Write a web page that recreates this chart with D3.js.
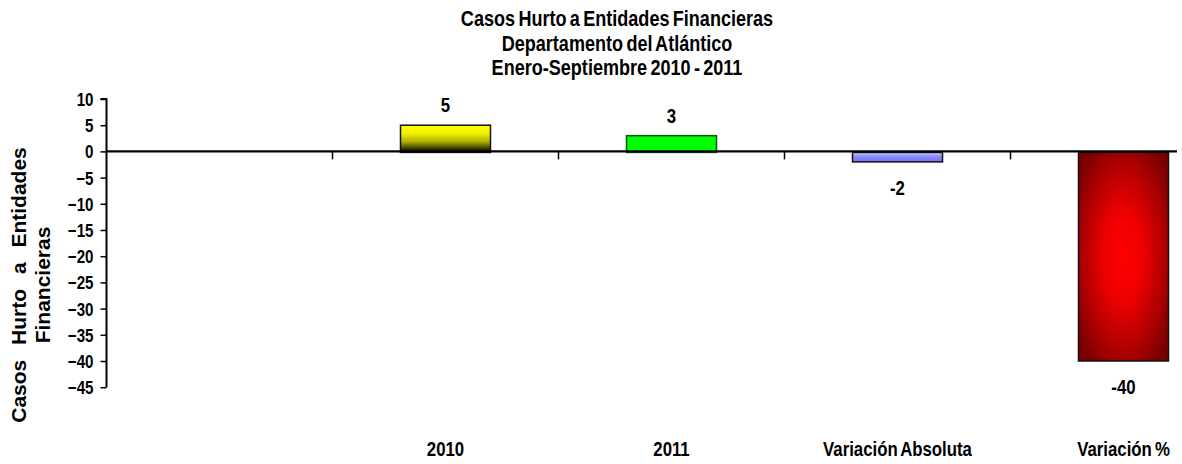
<!DOCTYPE html>
<html>
<head>
<meta charset="utf-8">
<script src="https://cdn.jsdelivr.net/npm/d3@7/dist/d3.min.js"></script>
<style>
  html, body { margin: 0; padding: 0; background: #fff; }
  svg { display: block; }
  .narrow { font-family: "Liberation Sans", Arial, sans-serif; font-weight: bold; }
</style>
</head>
<body>
<svg id="chart" width="1182" height="464"></svg>
<script>
const categories = ["", "2010", "2011", "Variación Absoluta", "Variación %"];
const values = [null, 5, 3, -2, -40];
const yTicks = [10, 5, 0, -5, -10, -15, -20, -25, -30, -35, -40, -45];
const titleLines = ["Casos Hurto a Entidades Financieras", "Departamento del Atlántico", "Enero-Septiembre 2010 - 2011"];
const yTitleLines = ["Casos Hurto a Entidades", "Financieras"];
const fills = [null, "url(#gYellow)", "#00ff00", "url(#gBlue)", "url(#gRed)"];

const svg = d3.select("#chart");
const W = 1182, H = 464;
const axisX = 106.5;
const step = 226;

const x = d3.scaleBand().domain(categories).range([axisX, axisX + step * categories.length]).paddingInner(0).paddingOuter(0);
const y = d3.scaleLinear().domain([-45, 10]).range([387.2, 99]);
const barW = 90;

// condense text horizontally (imitates a narrow bold face) with a transform
function condense(sel, k) {
  sel.each(function () {
    const t = d3.select(this);
    const tx = +t.attr("x") || 0, ty = +t.attr("y") || 0;
    t.attr("x", 0).attr("y", 0).attr("transform", `translate(${tx},${ty}) scale(${k},1)`);
  });
}

// gradients
const defs = svg.append("defs");
const gy = defs.append("linearGradient").attr("id", "gYellow").attr("x1", 0).attr("y1", 0).attr("x2", 0).attr("y2", 1);
[[0, "#ffff00"], [0.3, "#f0f000"], [0.6, "#b0b000"], [0.85, "#3a3a00"], [1, "#050500"]].forEach(s => gy.append("stop").attr("offset", s[0]).attr("stop-color", s[1]));
const gb = defs.append("linearGradient").attr("id", "gBlue").attr("x1", 0).attr("y1", 0).attr("x2", 0).attr("y2", 1);
[[0, "#c8c8ff"], [0.45, "#8a8aff"], [1, "#7272f2"]].forEach(s => gb.append("stop").attr("offset", s[0]).attr("stop-color", s[1]));
const gr = defs.append("radialGradient").attr("id", "gRed").attr("cx", 0.5).attr("cy", 0.5).attr("r", 0.62);
[[0, "#ff0000"], [0.35, "#ee0000"], [0.75, "#aa0000"], [1, "#7a0000"]].forEach(s => gr.append("stop").attr("offset", s[0]).attr("stop-color", s[1]));

defs.append("clipPath").attr("id", "plotClip").append("rect").attr("x", 0).attr("y", 0).attr("width", 1178).attr("height", H);

// title
svg.append("g").selectAll("text").data(titleLines).join("text")
  .attr("class", "narrow")
  .attr("x", 617).attr("y", (d, i) => 26 + i * 24.5)
  .attr("text-anchor", "middle").attr("font-size", 21.5).attr("fill", "#000")
  .attr("word-spacing", -2)
  .text(d => d)
  .call(condense, 0.84);

// y axis title
const yt = svg.append("g").attr("transform", "translate(0,285) rotate(-90)");
yt.selectAll("text").data(yTitleLines).join("text")
  .attr("x", 0).attr("y", (d, i) => 26 + i * 23.5)
  .attr("text-anchor", "middle")
  .attr("font-family", "'Liberation Sans', Arial, sans-serif")
  .attr("font-weight", "bold").attr("font-size", 21)
  .attr("word-spacing", (d, i) => i === 0 ? 9 : 0)
  .text(d => d);

const plot = svg.append("g").attr("clip-path", "url(#plotClip)");

// bars
const data = categories.map((c, i) => ({ c, v: values[i], fill: fills[i] })).filter(d => d.v !== null);
plot.selectAll("rect.bar").data(data).join("rect")
  .attr("class", "bar")
  .attr("x", d => x(d.c) + x.bandwidth() / 2 - barW / 2)
  .attr("width", barW)
  .attr("y", d => d.v >= 0 ? y(d.v) : y(0) + 1)
  .attr("height", d => d.v >= 0 ? y(0) - y(d.v) + 1 : y(d.v) - y(0) - 1)
  .attr("fill", d => d.fill)
  .attr("stroke", d => d.c === "2011" ? "#0a5a0a" : "#111")
  .attr("stroke-width", 1.5);

// y axis
const yAxis = d3.axisLeft(y).tickValues(yTicks).tickSize(6).tickPadding(8).tickFormat(d3.format("d"));
const yg = svg.append("g").attr("transform", `translate(${axisX},0)`).call(yAxis);
yg.select(".domain").attr("stroke", "#000").attr("stroke-width", 2).attr("d", `M-6,${y(10)}H0V${y(-45)}H0`);
yg.selectAll(".tick line").attr("stroke", "#000").attr("stroke-width", 1.5);
yg.selectAll(".tick text").attr("class", "narrow").attr("font-size", 18.5).attr("fill", "#000")
  .attr("text-anchor", "end").attr("dy", null)
  .attr("x", -13).attr("y", 6.5)
  .call(condense, 0.82);

// x axis at zero
const xAxis = d3.axisBottom(x).tickSize(0).tickFormat(() => "");
const xg = plot.append("g").attr("transform", `translate(0,${y(0)})`).call(xAxis);
xg.select(".domain").attr("stroke", "#000").attr("stroke-width", 2.2).attr("d", `M${axisX},0H1177`);
xg.selectAll(".tick").remove();
const bounds = categories.slice(1).map(c => x(c));
plot.append("g").selectAll("line").data(bounds).join("line")
  .attr("x1", d => d).attr("x2", d => d)
  .attr("y1", y(0)).attr("y2", y(0) + 8)
  .attr("stroke", "#000").attr("stroke-width", 1.5);

// category labels
svg.append("g").selectAll("text").data(categories.filter(c => c !== "")).join("text")
  .attr("class", "narrow")
  .attr("x", d => x(d) + x.bandwidth() / 2)
  .attr("y", 456)
  .attr("text-anchor", "middle").attr("font-size", 21).attr("fill", "#000")
  .attr("word-spacing", -2)
  .text(d => d)
  .call(condense, 0.8);

// value labels
svg.append("g").selectAll("text").data(data).join("text")
  .attr("class", "narrow")
  .attr("x", d => x(d.c) + x.bandwidth() / 2)
  .attr("y", d => d.v >= 0 ? y(d.v) - 13 : y(d.v) + 33)
  .attr("text-anchor", "middle").attr("font-size", 21).attr("fill", "#000")
  .text(d => d.v)
  .call(condense, 0.8);
</script>
</body>
</html>
